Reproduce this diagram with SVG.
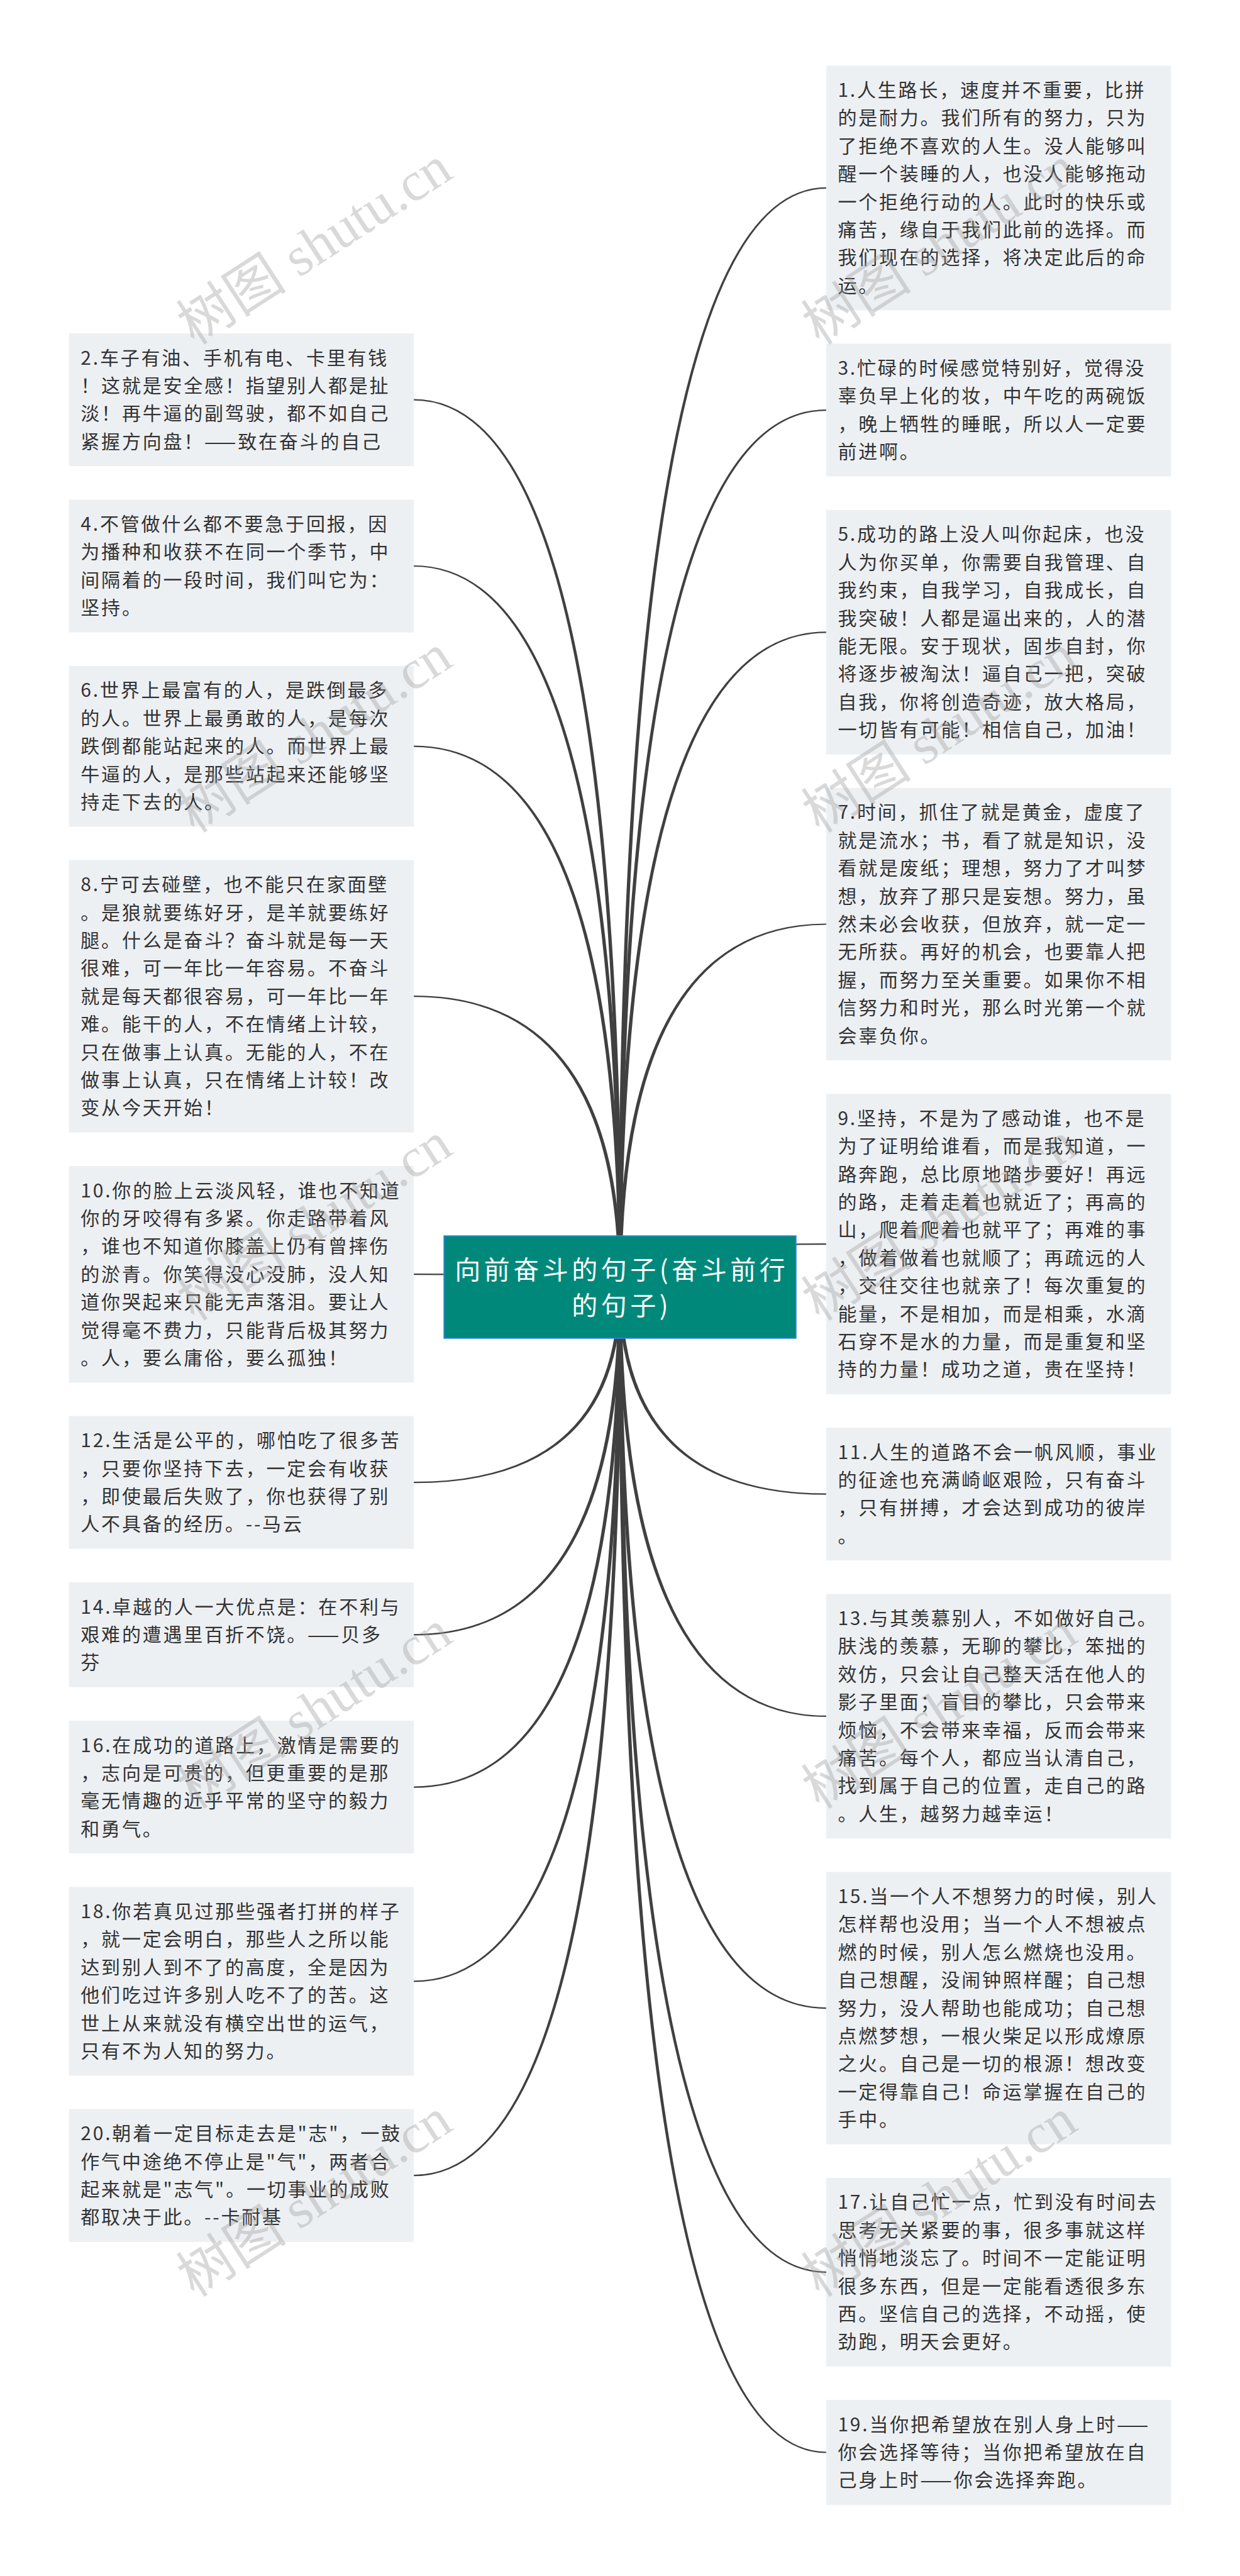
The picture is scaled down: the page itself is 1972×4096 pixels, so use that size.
<svg xmlns="http://www.w3.org/2000/svg" width="1972" height="4096" viewBox="0 0 1972 4096">
<style>
.box{fill:#edf0f3}
.t{font-family:"Noto Sans CJK SC","Noto Sans",sans-serif;font-size:30px;letter-spacing:2.8px;fill:#333333}
.ct{font-family:"Noto Sans CJK SC","Noto Sans",sans-serif;font-size:41px;letter-spacing:5.5px;fill:#ffffff;text-anchor:middle}
.ln{fill:#404040;stroke:none}
.wm{font-family:"Liberation Serif","Noto Sans CJK SC",serif;font-size:88px;fill:#9a9a9a;fill-opacity:0.38;text-anchor:middle}
</style>
<rect width="1972" height="4096" fill="#ffffff"/>
<g id="connectors">
<path class="ln" d="M988.8,2046.5 Q988.8,300 1314,300 L1314,297.8 Q983.2,297.8 983.2,2046.5 Z"/>
<path class="ln" d="M988.8,2046.5 Q988.8,653.2 1314,653.2 L1314,651 Q983.2,651 983.2,2046.5 Z"/>
<path class="ln" d="M988.8,2046.5 Q988.8,1006.4 1314,1006.4 L1314,1004.2 Q983.2,1004.2 983.2,2046.5 Z"/>
<path class="ln" d="M988.8,2046.5 Q988.8,1470.6 1314,1470.6 L1314,1468.4 Q983.2,1468.4 983.2,2046.5 Z"/>
<path class="ln" d="M988.8,2046.5 Q988.8,1979.2 1314,1979.2 L1314,1977 Q983.2,1977 983.2,2046.5 Z"/>
<path class="ln" d="M988.8,2046.5 Q988.8,2374.6 1314,2374.6 L1314,2376.8 Q983.2,2376.8 983.2,2046.5 Z"/>
<path class="ln" d="M988.8,2046.5 Q988.8,2727.8 1314,2727.8 L1314,2730 Q983.2,2730 983.2,2046.5 Z"/>
<path class="ln" d="M988.8,2046.5 Q988.8,3192 1314,3192 L1314,3194.2 Q983.2,3194.2 983.2,2046.5 Z"/>
<path class="ln" d="M988.8,2046.5 Q988.8,3611.8 1314,3611.8 L1314,3614 Q983.2,3614 983.2,2046.5 Z"/>
<path class="ln" d="M988.8,2046.5 Q988.8,3898.4 1314,3898.4 L1314,3900.6 Q983.2,3900.6 983.2,2046.5 Z"/>
<path class="ln" d="M988.8,2046.5 Q988.8,634.5 658,634.5 L658,636.7 Q983.2,636.7 983.2,2046.5 Z"/>
<path class="ln" d="M988.8,2046.5 Q988.8,898.9 658,898.9 L658,901.1 Q983.2,901.1 983.2,2046.5 Z"/>
<path class="ln" d="M988.8,2046.5 Q988.8,1185.5 658,1185.5 L658,1187.7 Q983.2,1187.7 983.2,2046.5 Z"/>
<path class="ln" d="M988.8,2046.5 Q988.8,1583.1 658,1583.1 L658,1585.3 Q983.2,1585.3 983.2,2046.5 Z"/>
<path class="ln" d="M988.8,2046.5 Q988.8,2025.1 658,2025.1 L658,2027.3 Q983.2,2027.3 983.2,2046.5 Z"/>
<path class="ln" d="M988.8,2046.5 Q988.8,2358.3 658,2358.3 L658,2356.1 Q983.2,2356.1 983.2,2046.5 Z"/>
<path class="ln" d="M988.8,2046.5 Q988.8,2600.5 658,2600.5 L658,2598.3 Q983.2,2598.3 983.2,2046.5 Z"/>
<path class="ln" d="M988.8,2046.5 Q988.8,2842.7 658,2842.7 L658,2840.5 Q983.2,2840.5 983.2,2046.5 Z"/>
<path class="ln" d="M988.8,2046.5 Q988.8,3151.5 658,3151.5 L658,3149.3 Q983.2,3149.3 983.2,2046.5 Z"/>
<path class="ln" d="M988.8,2046.5 Q988.8,3460.3 658,3460.3 L658,3458.1 Q983.2,3458.1 983.2,2046.5 Z"/>
</g>
<g id="root">
<rect x="706" y="1965" width="560" height="163" fill="#00897b" stroke="#3b82f6" stroke-width="1.5"/>
<text class="ct" x="988.8" y="2033.5">向前奋斗的句子(奋斗前行</text>
<text class="ct" x="988.8" y="2090.5">的句子)</text>
</g>
<g id="n1">
<rect class="box" x="1313.8" y="104.5" width="548.5" height="388.8"/>
<text class="t" x="1332.4" y="154"><tspan x="1332.4" dy="0">1.人生路长，速度并不重要，比拼</tspan><tspan x="1332.4" dy="44.4">的是耐力。我们所有的努力，只为</tspan><tspan x="1332.4" dy="44.4">了拒绝不喜欢的人生。没人能够叫</tspan><tspan x="1332.4" dy="44.4">醒一个装睡的人，也没人能够拖动</tspan><tspan x="1332.4" dy="44.4">一个拒绝行动的人。此时的快乐或</tspan><tspan x="1332.4" dy="44.4">痛苦，缘自于我们此前的选择。而</tspan><tspan x="1332.4" dy="44.4">我们现在的选择，将决定此后的命</tspan><tspan x="1332.4" dy="44.4">运。</tspan></text>
</g>
<g id="n3">
<rect class="box" x="1313.8" y="546.5" width="548.5" height="211.2"/>
<text class="t" x="1332.4" y="596"><tspan x="1332.4" dy="0">3.忙碌的时候感觉特别好，觉得没</tspan><tspan x="1332.4" dy="44.4">辜负早上化的妆，中午吃的两碗饭</tspan><tspan x="1332.4" dy="44.4">，晚上牺牲的睡眠，所以人一定要</tspan><tspan x="1332.4" dy="44.4">前进啊。</tspan></text>
</g>
<g id="n5">
<rect class="box" x="1313.8" y="810.9" width="548.5" height="388.8"/>
<text class="t" x="1332.4" y="860.4"><tspan x="1332.4" dy="0">5.成功的路上没人叫你起床，也没</tspan><tspan x="1332.4" dy="44.4">人为你买单，你需要自我管理、自</tspan><tspan x="1332.4" dy="44.4">我约束，自我学习，自我成长，自</tspan><tspan x="1332.4" dy="44.4">我突破！人都是逼出来的，人的潜</tspan><tspan x="1332.4" dy="44.4">能无限。安于现状，固步自封，你</tspan><tspan x="1332.4" dy="44.4">将逐步被淘汰！逼自己一把，突破</tspan><tspan x="1332.4" dy="44.4">自我，你将创造奇迹，放大格局，</tspan><tspan x="1332.4" dy="44.4">一切皆有可能！相信自己，加油！</tspan></text>
</g>
<g id="n7">
<rect class="box" x="1313.8" y="1252.9" width="548.5" height="433.2"/>
<text class="t" x="1332.4" y="1302.4"><tspan x="1332.4" dy="0">7.时间，抓住了就是黄金，虚度了</tspan><tspan x="1332.4" dy="44.4">就是流水；书，看了就是知识，没</tspan><tspan x="1332.4" dy="44.4">看就是废纸；理想，努力了才叫梦</tspan><tspan x="1332.4" dy="44.4">想，放弃了那只是妄想。努力，虽</tspan><tspan x="1332.4" dy="44.4">然未必会收获，但放弃，就一定一</tspan><tspan x="1332.4" dy="44.4">无所获。再好的机会，也要靠人把</tspan><tspan x="1332.4" dy="44.4">握，而努力至关重要。如果你不相</tspan><tspan x="1332.4" dy="44.4">信努力和时光，那么时光第一个就</tspan><tspan x="1332.4" dy="44.4">会辜负你。</tspan></text>
</g>
<g id="n9">
<rect class="box" x="1313.8" y="1739.3" width="548.5" height="477.6"/>
<text class="t" x="1332.4" y="1788.8"><tspan x="1332.4" dy="0">9.坚持，不是为了感动谁，也不是</tspan><tspan x="1332.4" dy="44.4">为了证明给谁看，而是我知道，一</tspan><tspan x="1332.4" dy="44.4">路奔跑，总比原地踏步要好！再远</tspan><tspan x="1332.4" dy="44.4">的路，走着走着也就近了；再高的</tspan><tspan x="1332.4" dy="44.4">山，爬着爬着也就平了；再难的事</tspan><tspan x="1332.4" dy="44.4">，做着做着也就顺了；再疏远的人</tspan><tspan x="1332.4" dy="44.4">，交往交往也就亲了！每次重复的</tspan><tspan x="1332.4" dy="44.4">能量，不是相加，而是相乘，水滴</tspan><tspan x="1332.4" dy="44.4">石穿不是水的力量，而是重复和坚</tspan><tspan x="1332.4" dy="44.4">持的力量！成功之道，贵在坚持！</tspan></text>
</g>
<g id="n11">
<rect class="box" x="1313.8" y="2270.1" width="548.5" height="211.2"/>
<text class="t" x="1332.4" y="2319.6"><tspan x="1332.4" dy="0">11.人生的道路不会一帆风顺，事业</tspan><tspan x="1332.4" dy="44.4">的征途也充满崎岖艰险，只有奋斗</tspan><tspan x="1332.4" dy="44.4">，只有拼搏，才会达到成功的彼岸</tspan><tspan x="1332.4" dy="44.4">。</tspan></text>
</g>
<g id="n13">
<rect class="box" x="1313.8" y="2534.5" width="548.5" height="388.8"/>
<text class="t" x="1332.4" y="2584"><tspan x="1332.4" dy="0">13.与其羡慕别人，不如做好自己。</tspan><tspan x="1332.4" dy="44.4">肤浅的羡慕，无聊的攀比，笨拙的</tspan><tspan x="1332.4" dy="44.4">效仿，只会让自己整天活在他人的</tspan><tspan x="1332.4" dy="44.4">影子里面；盲目的攀比，只会带来</tspan><tspan x="1332.4" dy="44.4">烦恼，不会带来幸福，反而会带来</tspan><tspan x="1332.4" dy="44.4">痛苦。每个人，都应当认清自己，</tspan><tspan x="1332.4" dy="44.4">找到属于自己的位置，走自己的路</tspan><tspan x="1332.4" dy="44.4">。人生，越努力越幸运！</tspan></text>
</g>
<g id="n15">
<rect class="box" x="1313.8" y="2976.5" width="548.5" height="433.2"/>
<text class="t" x="1332.4" y="3026"><tspan x="1332.4" dy="0">15.当一个人不想努力的时候，别人</tspan><tspan x="1332.4" dy="44.4">怎样帮也没用；当一个人不想被点</tspan><tspan x="1332.4" dy="44.4">燃的时候，别人怎么燃烧也没用。</tspan><tspan x="1332.4" dy="44.4">自己想醒，没闹钟照样醒；自己想</tspan><tspan x="1332.4" dy="44.4">努力，没人帮助也能成功；自己想</tspan><tspan x="1332.4" dy="44.4">点燃梦想，一根火柴足以形成燎原</tspan><tspan x="1332.4" dy="44.4">之火。自己是一切的根源！想改变</tspan><tspan x="1332.4" dy="44.4">一定得靠自己！命运掌握在自己的</tspan><tspan x="1332.4" dy="44.4">手中。</tspan></text>
</g>
<g id="n17">
<rect class="box" x="1313.8" y="3462.9" width="548.5" height="300"/>
<text class="t" x="1332.4" y="3512.4"><tspan x="1332.4" dy="0">17.让自己忙一点，忙到没有时间去</tspan><tspan x="1332.4" dy="44.4">思考无关紧要的事，很多事就这样</tspan><tspan x="1332.4" dy="44.4">悄悄地淡忘了。时间不一定能证明</tspan><tspan x="1332.4" dy="44.4">很多东西，但是一定能看透很多东</tspan><tspan x="1332.4" dy="44.4">西。坚信自己的选择，不动摇，使</tspan><tspan x="1332.4" dy="44.4">劲跑，明天会更好。</tspan></text>
</g>
<g id="n19">
<rect class="box" x="1313.8" y="3816.1" width="548.5" height="166.8"/>
<text class="t" x="1332.4" y="3865.6"><tspan x="1332.4" dy="0">19.当你把希望放在别人身上时——</tspan><tspan x="1332.4" dy="44.4">你会选择等待；当你把希望放在自</tspan><tspan x="1332.4" dy="44.4">己身上时——你会选择奔跑。</tspan></text>
</g>
<g id="n2">
<rect class="box" x="109.7" y="530" width="548.5" height="211.2"/>
<text class="t" x="128.3" y="579.5"><tspan x="128.3" dy="0">2.车子有油、手机有电、卡里有钱</tspan><tspan x="128.3" dy="44.4">！这就是安全感！指望别人都是扯</tspan><tspan x="128.3" dy="44.4">淡！再牛逼的副驾驶，都不如自己</tspan><tspan x="128.3" dy="44.4">紧握方向盘！——致在奋斗的自己</tspan></text>
</g>
<g id="n4">
<rect class="box" x="109.7" y="794.4" width="548.5" height="211.2"/>
<text class="t" x="128.3" y="843.9"><tspan x="128.3" dy="0">4.不管做什么都不要急于回报，因</tspan><tspan x="128.3" dy="44.4">为播种和收获不在同一个季节，中</tspan><tspan x="128.3" dy="44.4">间隔着的一段时间，我们叫它为：</tspan><tspan x="128.3" dy="44.4">坚持。</tspan></text>
</g>
<g id="n6">
<rect class="box" x="109.7" y="1058.8" width="548.5" height="255.6"/>
<text class="t" x="128.3" y="1108.3"><tspan x="128.3" dy="0">6.世界上最富有的人，是跌倒最多</tspan><tspan x="128.3" dy="44.4">的人。世界上最勇敢的人，是每次</tspan><tspan x="128.3" dy="44.4">跌倒都能站起来的人。而世界上最</tspan><tspan x="128.3" dy="44.4">牛逼的人，是那些站起来还能够坚</tspan><tspan x="128.3" dy="44.4">持走下去的人。</tspan></text>
</g>
<g id="n8">
<rect class="box" x="109.7" y="1367.6" width="548.5" height="433.2"/>
<text class="t" x="128.3" y="1417.1"><tspan x="128.3" dy="0">8.宁可去碰壁，也不能只在家面壁</tspan><tspan x="128.3" dy="44.4">。是狼就要练好牙，是羊就要练好</tspan><tspan x="128.3" dy="44.4">腿。什么是奋斗？奋斗就是每一天</tspan><tspan x="128.3" dy="44.4">很难，可一年比一年容易。不奋斗</tspan><tspan x="128.3" dy="44.4">就是每天都很容易，可一年比一年</tspan><tspan x="128.3" dy="44.4">难。能干的人，不在情绪上计较，</tspan><tspan x="128.3" dy="44.4">只在做事上认真。无能的人，不在</tspan><tspan x="128.3" dy="44.4">做事上认真，只在情绪上计较！改</tspan><tspan x="128.3" dy="44.4">变从今天开始！</tspan></text>
</g>
<g id="n10">
<rect class="box" x="109.7" y="1854" width="548.5" height="344.4"/>
<text class="t" x="128.3" y="1903.5"><tspan x="128.3" dy="0">10.你的脸上云淡风轻，谁也不知道</tspan><tspan x="128.3" dy="44.4">你的牙咬得有多紧。你走路带着风</tspan><tspan x="128.3" dy="44.4">，谁也不知道你膝盖上仍有曾摔伤</tspan><tspan x="128.3" dy="44.4">的淤青。你笑得没心没肺，没人知</tspan><tspan x="128.3" dy="44.4">道你哭起来只能无声落泪。要让人</tspan><tspan x="128.3" dy="44.4">觉得毫不费力，只能背后极其努力</tspan><tspan x="128.3" dy="44.4">。人，要么庸俗，要么孤独！</tspan></text>
</g>
<g id="n12">
<rect class="box" x="109.7" y="2251.6" width="548.5" height="211.2"/>
<text class="t" x="128.3" y="2301.1"><tspan x="128.3" dy="0">12.生活是公平的，哪怕吃了很多苦</tspan><tspan x="128.3" dy="44.4">，只要你坚持下去，一定会有收获</tspan><tspan x="128.3" dy="44.4">，即使最后失败了，你也获得了别</tspan><tspan x="128.3" dy="44.4">人不具备的经历。--马云</tspan></text>
</g>
<g id="n14">
<rect class="box" x="109.7" y="2516" width="548.5" height="166.8"/>
<text class="t" x="128.3" y="2565.5"><tspan x="128.3" dy="0">14.卓越的人一大优点是：在不利与</tspan><tspan x="128.3" dy="44.4">艰难的遭遇里百折不饶。——贝多</tspan><tspan x="128.3" dy="44.4">芬</tspan></text>
</g>
<g id="n16">
<rect class="box" x="109.7" y="2736" width="548.5" height="211.2"/>
<text class="t" x="128.3" y="2785.5"><tspan x="128.3" dy="0">16.在成功的道路上，激情是需要的</tspan><tspan x="128.3" dy="44.4">，志向是可贵的，但更重要的是那</tspan><tspan x="128.3" dy="44.4">毫无情趣的近乎平常的坚守的毅力</tspan><tspan x="128.3" dy="44.4">和勇气。</tspan></text>
</g>
<g id="n18">
<rect class="box" x="109.7" y="3000.4" width="548.5" height="300"/>
<text class="t" x="128.3" y="3049.9"><tspan x="128.3" dy="0">18.你若真见过那些强者打拼的样子</tspan><tspan x="128.3" dy="44.4">，就一定会明白，那些人之所以能</tspan><tspan x="128.3" dy="44.4">达到别人到不了的高度，全是因为</tspan><tspan x="128.3" dy="44.4">他们吃过许多别人吃不了的苦。这</tspan><tspan x="128.3" dy="44.4">世上从来就没有横空出世的运气，</tspan><tspan x="128.3" dy="44.4">只有不为人知的努力。</tspan></text>
</g>
<g id="n20">
<rect class="box" x="109.7" y="3353.6" width="548.5" height="211.2"/>
<text class="t" x="128.3" y="3403.1"><tspan x="128.3" dy="0">20.朝着一定目标走去是"志"，一鼓</tspan><tspan x="128.3" dy="44.4">作气中途绝不停止是"气"，两者合</tspan><tspan x="128.3" dy="44.4">起来就是"志气"。一切事业的成败</tspan><tspan x="128.3" dy="44.4">都取决于此。--卡耐基</tspan></text>
</g>
<g id="watermarks">
<text class="wm" transform="translate(501,392) rotate(-33)" y="28">树图 shutu.cn</text>
<text class="wm" transform="translate(1495,392) rotate(-33)" y="28">树图 shutu.cn</text>
<text class="wm" transform="translate(501,1168) rotate(-33)" y="28">树图 shutu.cn</text>
<text class="wm" transform="translate(1495,1168) rotate(-33)" y="28">树图 shutu.cn</text>
<text class="wm" transform="translate(501,1944) rotate(-33)" y="28">树图 shutu.cn</text>
<text class="wm" transform="translate(1495,1944) rotate(-33)" y="28">树图 shutu.cn</text>
<text class="wm" transform="translate(501,2720) rotate(-33)" y="28">树图 shutu.cn</text>
<text class="wm" transform="translate(1495,2720) rotate(-33)" y="28">树图 shutu.cn</text>
<text class="wm" transform="translate(501,3496) rotate(-33)" y="28">树图 shutu.cn</text>
<text class="wm" transform="translate(1495,3496) rotate(-33)" y="28">树图 shutu.cn</text>
</g>
</svg>
